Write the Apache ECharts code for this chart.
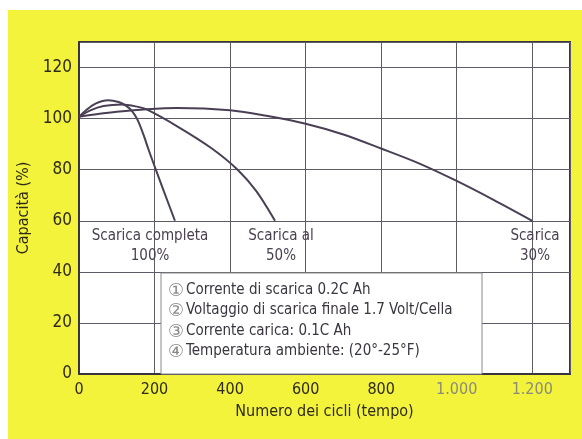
<!DOCTYPE html>
<html>
<head>
<meta charset="utf-8">
<script src="https://cdn.jsdelivr.net/npm/echarts@6/dist/echarts.min.js"></script>
<style>
html,body{margin:0;padding:0;background:#fff;}
#chart{width:582px;height:439px;}
</style>
</head>
<body>
<div id="chart"></div>
<script>
// Data
const xTicks = [0, 200, 400, 600, 800, 1000, 1200];
const yTicks = [0, 20, 40, 60, 80, 100, 120];
const cycles100 = [0, 20, 45, 77, 105, 125, 140, 155, 170, 185, 200, 225, 254];
const cap100 = [100.7, 103.5, 106, 107.2, 106.5, 105, 103, 99.5, 94, 87.5, 81.4, 71.4, 60];
const cycles50 = [0, 30, 65, 113, 150, 179, 260, 350, 420, 470, 519];
const cap50 = [100.7, 103.2, 104.9, 105.5, 104.8, 103.6, 97, 88.5, 80, 71.5, 60];
const cycles30 = [0, 50, 100, 179, 260, 400, 500, 600, 700, 800, 900, 1000, 1100, 1200];
const cap30 = [100.7, 101.8, 102.7, 103.7, 104.2, 103.3, 101, 98, 93.8, 88.3, 82.5, 75.6, 68, 60];
const curveLabels = [
  {x: 150, lines: ['Scarica completa', '100%']},
  {x: 281, lines: ['Scarica al', '50%']},
  {x: 535, lines: ['Scarica', '30%']}
];
const notes = [
  ['\u2460', 'Corrente di scarica 0.2C Ah'],
  ['\u2461', 'Voltaggio di scarica finale 1.7 Volt/Cella'],
  ['\u2462', 'Corrente carica: 0.1C Ah'],
  ['\u2463', 'Temperatura ambiente: (20\u00b0-25\u00b0F)']
];

const FONT = "'DejaVu Sans Condensed', 'Liberation Sans', sans-serif";
const lineColor = '#4a3f55';
const textColor = '#4a4050';

function pairs(xs, ys) { return xs.map((x, i) => [x, ys[i]]); }

const chart = echarts.init(document.getElementById('chart'));

const graphics = [
  {type: 'rect', z: -10, silent: true, shape: {x: 8, y: 10, width: 574, height: 429}, style: {fill: '#f3f33c'}},
  {type: 'rect', z: 50, silent: true, shape: {x: 161, y: 273, width: 321, height: 101}, style: {fill: '#ffffff', stroke: '#8a8a8a', lineWidth: 1}}
];
curveLabels.forEach(c => {
  c.lines.forEach((t, i) => {
    graphics.push({type: 'text', z: 60, silent: true, x: c.x, y: 236 + i * 20,
      style: {text: t, font: '15px ' + FONT, fill: textColor, align: 'center', verticalAlign: 'middle'}});
  });
});
notes.forEach((n, i) => {
  const y = 290 + i * 20.5;
  graphics.push({type: 'text', z: 60, silent: true, x: 176, y: y + 1,
    style: {text: n[0], font: '18px "DejaVu Sans", sans-serif', fill: '#8a8a8a', align: 'center', verticalAlign: 'middle'}});
  graphics.push({type: 'text', z: 60, silent: true, x: 186, y: y,
    style: {text: n[1], font: '15px ' + FONT, fill: '#3a3540', align: 'left', verticalAlign: 'middle'}});
});

chart.setOption({
  backgroundColor: '#ffffff',
  animation: false,
  graphic: graphics,
  grid: {left: 79, right: 12, top: 42, bottom: 65, show: true, borderColor: '#3a3340', borderWidth: 2, backgroundColor: '#ffffff'},
  xAxis: {
    type: 'value', min: 0, max: 1300, interval: 200,
    name: 'Numero dei cicli (tempo)', nameLocation: 'middle', nameGap: 30,
    nameTextStyle: {fontFamily: FONT, fontSize: 16, color: '#2e2a1a'},
    axisLine: {show: true, lineStyle: {color: '#3a3340', width: 2}},
    axisTick: {show: false},
    axisLabel: {
      showMaxLabel: false, margin: 8, fontFamily: FONT, fontSize: 16,
      color: v => (v >= 1000 ? '#8a8a7a' : '#2e2a1a'),
      formatter: v => (xTicks.indexOf(v) >= 0 ? (v >= 1000 ? (v / 1000).toFixed(3) : String(v)) : '')
    },
    splitLine: {show: true, lineStyle: {color: '#5e5a66', width: 1}}
  },
  yAxis: {
    type: 'value', min: 0, max: 130, interval: 20,
    name: 'Capacità (%)', nameLocation: 'middle', nameGap: 36, nameRotate: 90,
    nameTextStyle: {fontFamily: FONT, fontSize: 16, color: '#2e2a1a'},
    axisLine: {show: true, lineStyle: {color: '#3a3340', width: 2}},
    axisTick: {show: false},
    axisLabel: {
      showMaxLabel: false, margin: 7, fontFamily: FONT, fontSize: 17, color: '#2e2a1a',
      formatter: v => (yTicks.indexOf(v) >= 0 ? String(v) : '')
    },
    splitLine: {show: true, lineStyle: {color: '#5e5a66', width: 1}}
  },
  series: [
    {type: 'line', data: pairs(cycles100, cap100), smooth: 0.3, symbol: 'none', lineStyle: {color: lineColor, width: 2}, z: 5},
    {type: 'line', data: pairs(cycles50, cap50), smooth: 0.3, symbol: 'none', lineStyle: {color: lineColor, width: 2}, z: 5},
    {type: 'line', data: pairs(cycles30, cap30), smooth: 0.3, symbol: 'none', lineStyle: {color: lineColor, width: 2}, z: 5}
  ]
});
</script>
</body>
</html>
